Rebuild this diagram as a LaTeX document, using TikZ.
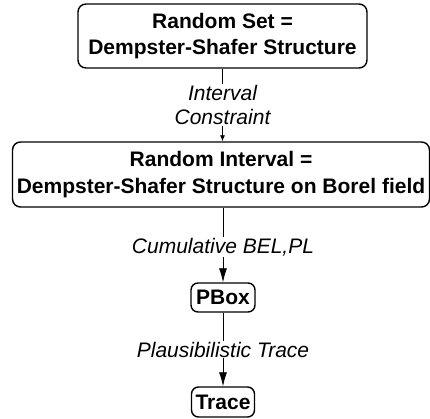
\documentclass[tikz,border=0pt]{standalone}
\usepackage{fontspec}
\setmainfont{Liberation Sans}
\usetikzlibrary{arrows.meta}
\begin{document}
\begin{tikzpicture}[x=1pt,y=-1pt,
  box/.style={draw, line width=1.4pt, rounded corners=8pt, inner sep=0pt, align=center, font=\fontsize{21}{26.5}\selectfont\bfseries},
  lbl/.style={fill=white, inner sep=1pt, align=center, font=\fontsize{21}{24}\selectfont\itshape},
  conn/.style={line width=0.8pt},
]
\useasboundingbox (0,0) rectangle (430,419);
\node[box, minimum width=289pt, minimum height=64pt] (rs) at (222.5,36) {Random Set =\\Dempster-Shafer Structure};
\node[box, minimum width=417pt, minimum height=65pt] (ri) at (221,174.5) {Random Interval =\\Dempster-Shafer Structure on Borel field};
\node[box, minimum width=64pt, minimum height=29pt, rounded corners=7pt] (pb) at (223,297.5) {PBox};
\node[box, minimum width=63pt, minimum height=30pt, rounded corners=7pt] (tr) at (223,402) {Trace};
\draw[conn,-{Latex[length=6pt,width=5pt]}] (rs.south) -- node[lbl]{Interval\\Constraint} (rs.south |- ri.north);
\draw[conn,-{Latex[length=14pt,width=8pt]}] (ri.south -| pb.north) -- node[lbl, yshift=-2pt]{Cumulative BEL,PL} (pb.north);
\draw[conn,-{Latex[length=14pt,width=8pt]}] (pb.south) -- node[lbl]{Plausibilistic Trace} (tr.north);
\end{tikzpicture}
\end{document}
